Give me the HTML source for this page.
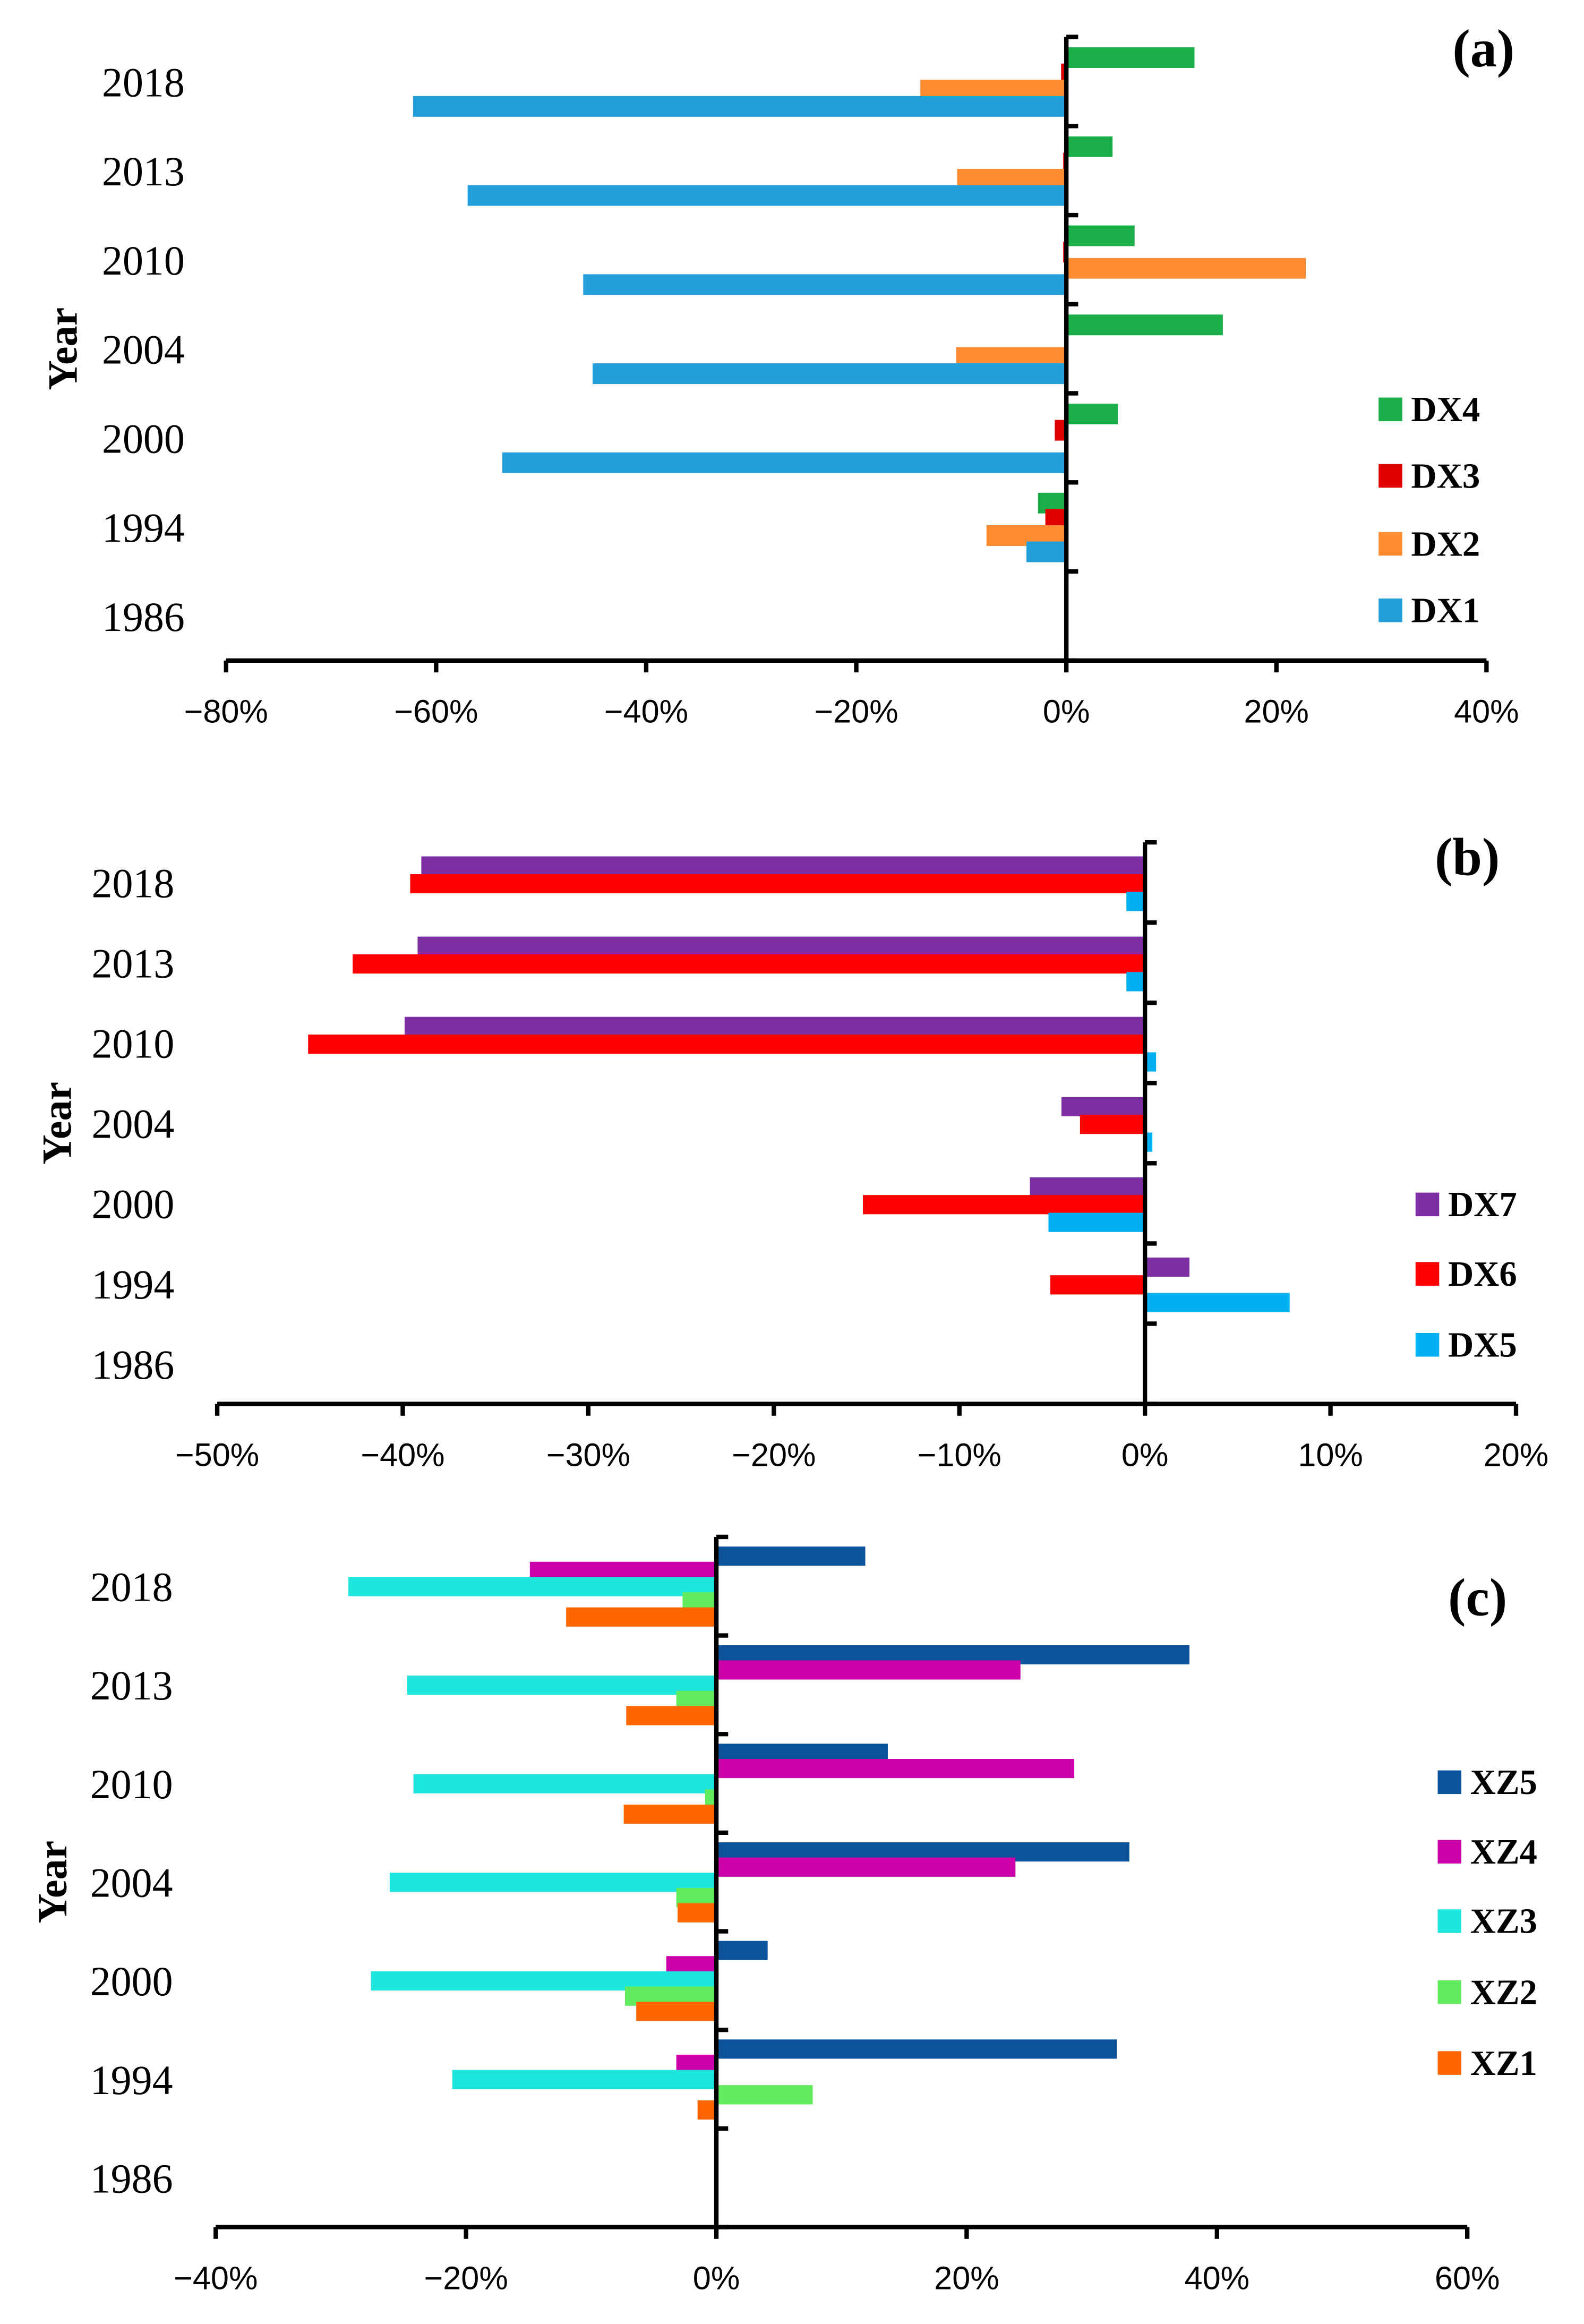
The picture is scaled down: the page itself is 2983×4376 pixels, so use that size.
<!DOCTYPE html>
<html><head><meta charset="utf-8"><style>
html,body{margin:0;padding:0;background:#fff;}
svg{display:block;}
.tick{font-family:"Liberation Sans",sans-serif;font-size:22px;fill:#000;}
.year{font-family:"Liberation Serif",serif;font-size:28px;fill:#000;}
.leg{font-family:"Liberation Serif",serif;font-size:24px;font-weight:bold;fill:#000;}
.ttl{font-family:"Liberation Serif",serif;font-size:28px;font-weight:bold;fill:#000;}
.pl{font-family:"Liberation Serif",serif;font-size:36px;font-weight:bold;fill:#000;}
</style></head><body>
<svg id="chart" width="2983" height="4376" viewBox="0 0 1072 1572.6" preserveAspectRatio="none" xmlns="http://www.w3.org/2000/svg"></svg>
<script>
const years = ["2018","2013","2010","2004","2000","1994","1986"];
const seriesA = ["DX4","DX3","DX2","DX1"];
const colorsA = ["#1aaf48","#e00000","#ff8c32","#23a0dc"];
const DX4 = [12.2,4.4,6.5,14.9,4.9,-2.7,0];
const DX3 = [-0.5,-0.3,-0.3,0.2,-1.1,-2.0,0];
const DX2 = [-13.9,-10.4,22.8,-10.5,0,-7.6,0];
const DX1 = [-62.2,-57.0,-46.0,-45.1,-53.7,-3.8,0];
const ticksA = [-80,-60,-40,-20,0,20,40];

const seriesB = ["DX7","DX6","DX5"];
const colorsB = ["#7b2fa0","#ff0000","#00b0f0"];
const DX7 = [-39.0,-39.2,-39.9,-4.5,-6.2,2.4,0];
const DX6 = [-39.6,-42.7,-45.1,-3.5,-15.2,-5.1,0];
const DX5 = [-1.0,-1.0,0.6,0.4,-5.2,7.8,0];
const ticksB = [-50,-40,-30,-20,-10,0,10,20];

const seriesC = ["XZ5","XZ4","XZ3","XZ2","XZ1"];
const colorsC = ["#0b539a","#cc00aa","#1ee6dc","#60ec5c","#ff6600"];
const XZ5 = [11.9,37.8,13.7,33.0,4.1,32.0,0];
const XZ4 = [-14.9,24.3,28.6,23.9,-4.0,-3.2,0];
const XZ3 = [-29.4,-24.7,-24.2,-26.1,-27.6,-21.1,0];
const XZ2 = [-2.7,-3.2,-0.9,-3.2,-7.3,7.7,0];
const XZ1 = [-12.0,-7.2,-7.4,-3.1,-6.4,-1.5,0];
const ticksC = [-40,-20,0,20,40,60];

const NS="http://www.w3.org/2000/svg";
const svg=document.getElementById('chart');
function mk(tag,attrs,parent){const e=document.createElementNS(NS,tag);for(const k in attrs)e.setAttribute(k,attrs[k]);(parent||svg).appendChild(e);return e;}
function fmt(v){return (v<0?"\u2212"+(-v):v)+"%";}

function panel(p){
  const g=mk('g',{});
  
  
  const xs=v=>p.x0+(v-p.vmin)/(p.vmax-p.vmin)*(p.x1-p.x0);
  const bandH=(p.yb-p.yt)/years.length;
  p.series.forEach((s,i)=>{
    p.vals[i].forEach((v,j)=>{
      if(v===0)return;
      const cy=p.yt+j*bandH+p.off+i*p.sp;
      const a=xs(0),b=xs(v);
      const r=mk('rect',{x:Math.min(a,b),y:cy-p.th/2,width:Math.abs(b-a),height:p.th,fill:p.colors[i]},g);
      
      
    });
  });
  const ax=mk('line',{x1:p.x0,y1:p.yb,x2:p.x1,y2:p.yb,stroke:'#000','stroke-width':3},g);
  
  
  p.ticks.forEach(t=>{
    mk('line',{x1:xs(t),y1:p.yb,x2:xs(t),y2:p.yb+8,stroke:'#000','stroke-width':3},g);
    const tx=mk('text',{x:xs(t),y:p.yb+42,'text-anchor':'middle',class:'tick'},g);
    tx.textContent=fmt(t);
    
    
  });
  const z=xs(0);
  const za=mk('line',{x1:z,y1:p.yt,x2:z,y2:p.yb,stroke:'#000','stroke-width':3},g);
  
  
  for(let j=0;j<=years.length;j++){
    mk('line',{x1:z,y1:p.yt+j*bandH,x2:z+8,y2:p.yt+j*bandH,stroke:'#000','stroke-width':3},g);
  }
  years.forEach((y,j)=>{
    const t=mk('text',{x:p.ylx,y:p.yt+(j+0.5)*bandH+10,'text-anchor':'middle',class:'year'},g);
    t.textContent=y;
    
    
  });
  const yt=mk('text',{x:p.ytx,y:(p.yt+p.yb)/2,'text-anchor':'middle',class:'ttl',transform:'rotate(-90 '+p.ytx+' '+(p.yt+p.yb)/2+')'},g);
  yt.textContent='Year';
  
  
  const pl=mk('text',{x:p.plx,y:p.ply,'text-anchor':'middle',class:'pl'},g);
  pl.textContent=p.label;
  
  
  p.series.forEach((s,i)=>{
    const lg=mk('g',{},g);
    
    
    const ly=p.legY[i];
    mk('rect',{x:p.legX,y:ly-8,width:16,height:16,fill:p.colors[i]},lg);
    const t=mk('text',{x:p.legX+22,y:ly+8,class:'leg'},lg);
    t.textContent=s;
  });
}
panel({name:'panel-a',label:'(a)',series:seriesA,colors:colorsA,vals:[DX4,DX3,DX2,DX1],ticks:ticksA,
  vmin:-80,vmax:40,x0:153,x1:1006,yt:25,yb:447,off:14,sp:11,th:14,ylx:97,ytx:52,plx:1004,ply:45,
  legX:933,legY:[277,322,368,413]});
panel({name:'panel-b',label:'(b)',series:seriesB,colors:colorsB,vals:[DX7,DX6,DX5],ticks:ticksB,
  vmin:-50,vmax:20,x0:147,x1:1026,yt:570,yb:950,off:16,sp:12,th:13,ylx:90,ytx:48,plx:993,ply:592,
  legX:958,legY:[815,862,910]});
panel({name:'panel-c',label:'(c)',series:seriesC,colors:colorsC,vals:[XZ5,XZ4,XZ3,XZ2,XZ1],ticks:ticksC,
  vmin:-40,vmax:60,x0:146,x1:993,yt:1040,yb:1507,off:13,sp:10.3,th:13,ylx:89,ytx:45,plx:1000,ply:1093,
  legX:973,legY:[1206,1253,1300,1348,1396]});
</script>
</body></html>
